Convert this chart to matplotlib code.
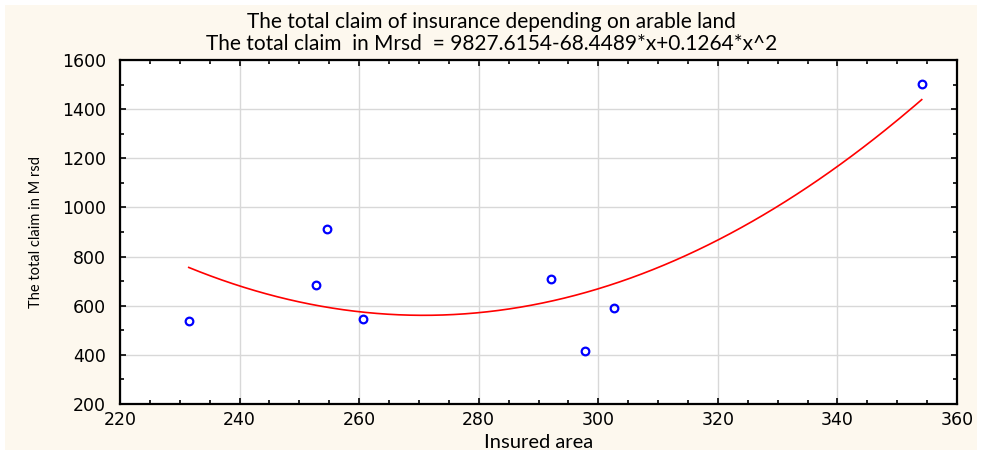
import numpy as np
import matplotlib.pyplot as plt
from matplotlib.patches import Rectangle
from matplotlib.ticker import MultipleLocator

# data
insured_area = [231.5, 252.8, 254.6, 260.6, 292.1, 297.8, 302.6, 354.1]
total_claim = [538, 684, 912, 546, 709, 416, 591, 1502]
# fitted curve coefficients (from the title)
c0, c1, c2 = 9827.6154, -68.4489, 0.1264

label_font = ['Lato', 'DejaVu Sans']

fig = plt.figure(figsize=(9.83, 4.55), dpi=100)
fig.patch.set_facecolor('white')
fig.patches.append(Rectangle((5 / 983, 5 / 455), 972 / 983, 445 / 455,
                             transform=fig.transFigure, facecolor='#fdf8ee',
                             edgecolor='none', zorder=-10))

ax = fig.add_axes([120 / 983, 1 - 404 / 455, 837 / 983, 344 / 455])
ax.set_facecolor('white')

xs = np.linspace(min(insured_area), max(insured_area), 200)
ax.plot(xs, c0 + c1 * xs + c2 * xs ** 2, color='red', lw=1.2, zorder=3)
ax.plot(insured_area, total_claim, 'o', ms=5.5, mfc='none', mec='blue',
        mew=1.6, zorder=4)

ax.set_xlim(220, 360)
ax.set_ylim(200, 1600)
ax.xaxis.set_major_locator(MultipleLocator(20))
ax.xaxis.set_minor_locator(MultipleLocator(5))
ax.yaxis.set_major_locator(MultipleLocator(200))
ax.yaxis.set_minor_locator(MultipleLocator(100))
ax.grid(True, which='major', color='#d8d8d8', lw=1)
ax.set_axisbelow(True)
ax.tick_params(which='both', direction='in', top=True, right=True,
               labelsize=12.5, color='black')
ax.tick_params(which='major', length=4, width=1.2)
ax.tick_params(which='minor', length=3, width=1.2)
ax.tick_params(axis='x', pad=5)
ax.tick_params(axis='y', pad=10)
for lab in ax.get_xticklabels() + ax.get_yticklabels():
    lab.set_family('DejaVu Sans')
for s in ax.spines.values():
    s.set_linewidth(1.6)

ax.set_xlabel('Insured area', fontsize=14.5, family=label_font, labelpad=4)
ax.set_ylabel('The total claim in M rsd', fontsize=10.5, family=label_font,
              labelpad=14)
fig.text(0.5, 1 - 22 / 455, 'The total claim of insurance depending on arable land',
         ha='center', va='center', fontsize=15, family=label_font)
fig.text(0.5, 1 - 44 / 455,
         'The total claim  in Mrsd  = 9827.6154-68.4489*x+0.1264*x^2',
         ha='center', va='center', fontsize=15, family=label_font)

fig.savefig('out.png', dpi=100, facecolor=fig.get_facecolor())
